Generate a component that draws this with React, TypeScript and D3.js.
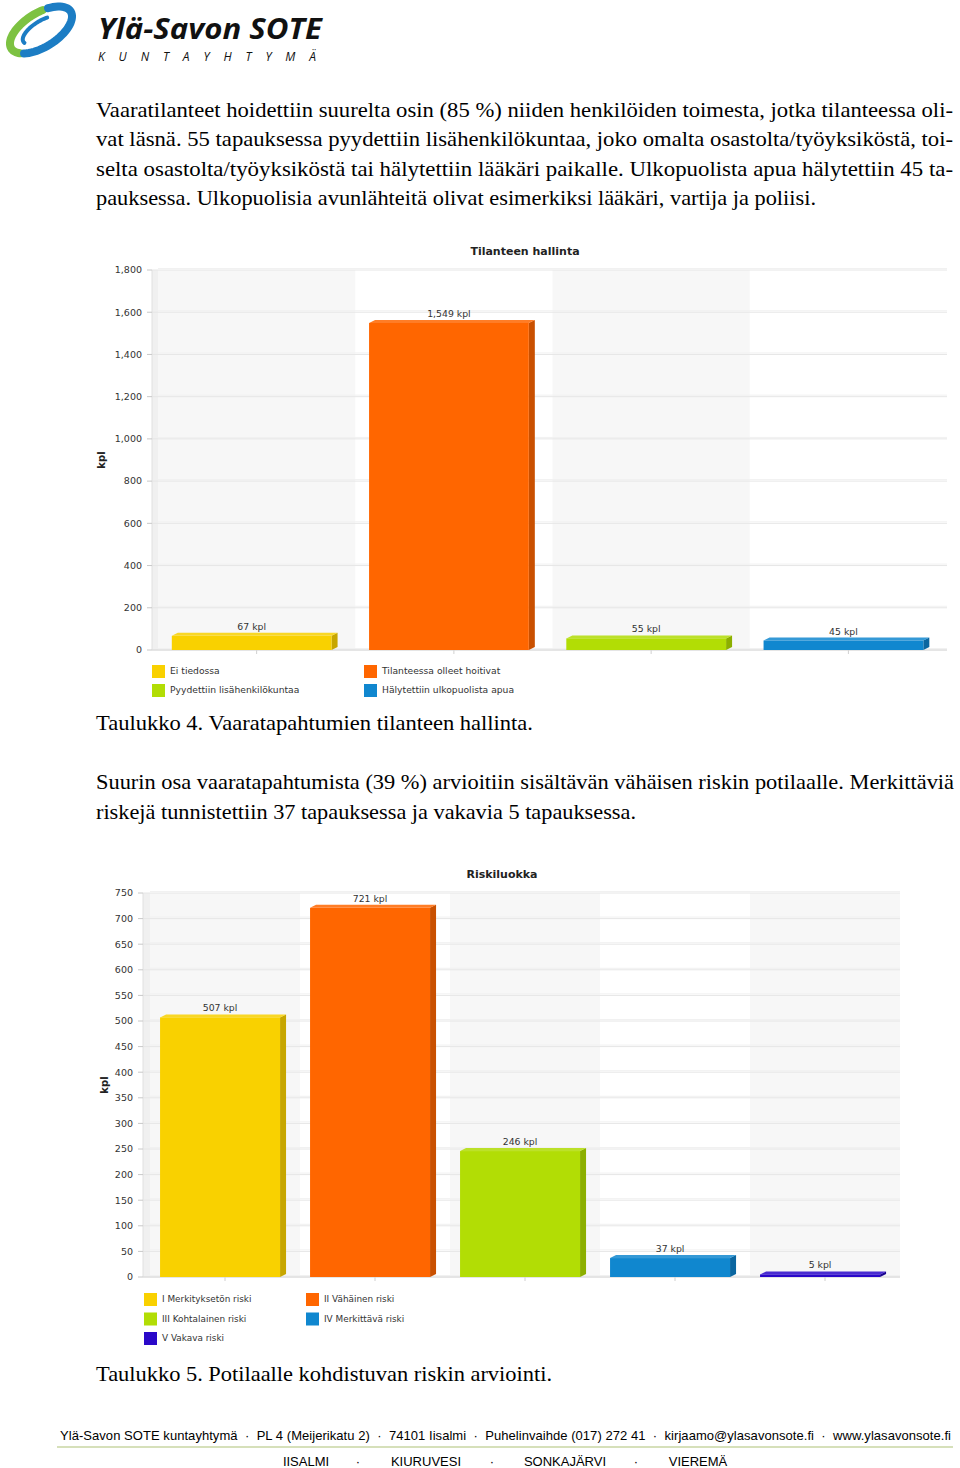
import React from "react";
import * as d3 from "d3";

// ---------- data ----------
const chart1Title = "Tilanteen hallinta";
const chart1Categories = [
  "Ei tiedossa",
  "Tilanteessa olleet hoitivat",
  "Pyydettiin lisähenkilökuntaa",
  "Hälytettiin ulkopuolista apua",
];
const chart1Values = [67, 1549, 55, 45];
const chart1Ticks = [0, 200, 400, 600, 800, 1000, 1200, 1400, 1600, 1800];

const chart2Title = "Riskiluokka";
const chart2Categories = [
  "I Merkityksetön riski",
  "II Vähäinen riski",
  "III Kohtalainen riski",
  "IV Merkittävä riski",
  "V Vakava riski",
];
const chart2Values = [507, 721, 246, 37, 5];
const chart2Ticks = [0, 50, 100, 150, 200, 250, 300, 350, 400, 450, 500, 550, 600, 650, 700, 750];

const chart1Colors = ["#F9D100", "#FF6600", "#B2DD05", "#1087CF"];
const chart1Sides = ["#C7A600", "#C95000", "#8CAF00", "#0B66A0"];
const chart2Colors = ["#F9D100", "#FF6600", "#B2DD05", "#1087CF", "#2A08C9"];
const chart2Sides = ["#C7A600", "#C95000", "#8CAF00", "#0B66A0", "#1A0590"];

const para1 = [
  "Vaaratilanteet hoidettiin suurelta osin (85 %) niiden henkilöiden toimesta, jotka tilanteessa oli-",
  "vat läsnä. 55 tapauksessa pyydettiin lisähenkilökuntaa, joko omalta osastolta/työyksiköstä, toi-",
  "selta osastolta/työyksiköstä tai hälytettiin lääkäri paikalle. Ulkopuolista apua hälytettiin 45 ta-",
  "pauksessa. Ulkopuolisia avunlähteitä olivat esimerkiksi lääkäri, vartija ja poliisi.",
];
const para1Widths = [857, 857, 857, 720];
const caption1 = "Taulukko 4. Vaaratapahtumien tilanteen hallinta.";
const para2 = [
  "Suurin osa vaaratapahtumista (39 %) arvioitiin sisältävän vähäisen riskin potilaalle. Merkittäviä",
  "riskejä tunnistettiin 37 tapauksessa ja vakavia 5 tapauksessa.",
];
const para2Widths = [858, 540];
const caption2 = "Taulukko 5. Potilaalle kohdistuvan riskin arviointi.";
const footerLine1 =
  "Ylä-Savon SOTE kuntayhtymä  ·  PL 4 (Meijerikatu 2)  ·  74101 Iisalmi  ·  Puhelinvaihde (017) 272 41  ·  kirjaamo@ylasavonsote.fi  ·  www.ylasavonsote.fi";
const footerTowns = ["IISALMI", "KIURUVESI", "SONKAJÄRVI", "VIEREMÄ"];

// ---------- helpers ----------
const chartFont = "'DejaVu Sans', Verdana, sans-serif";
const serif = "'Liberation Serif', 'Times New Roman', serif";

function ellipsePath(cx: number, cy: number, rx: number, ry: number, rotDeg: number, t0: number, t1: number) {
  const r = (rotDeg * Math.PI) / 180;
  const pts: [number, number][] = [];
  const n = 40;
  for (let i = 0; i <= n; i++) {
    const t = ((t0 + ((t1 - t0) * i) / n) * Math.PI) / 180;
    const x = rx * Math.cos(t);
    const y = ry * Math.sin(t);
    pts.push([cx + x * Math.cos(r) - y * Math.sin(r), cy + x * Math.sin(r) + y * Math.cos(r)]);
  }
  return d3.line()(pts) || "";
}

type ChartProps = {
  title: string;
  titleX: number;
  titleY: number;
  categories: string[];
  values: number[];
  ticks: number[];
  colors: string[];
  sides: string[];
  axisX: number;
  left: number;
  right: number;
  top: number;
  bottom: number;
  yMax: number;
  ylabelX: number;
  ylabelY: number;
  legendX: number[];
  legendY0: number;
  legendDy: number;
  legendFont: number;
  barOffset: number;
  barWidth: number;
};

function BarChart3D(p: ChartProps) {
  const x = d3.scaleBand<number>().domain(p.values.map((_, i) => i)).range([p.left, p.right]).padding(0);
  const y = d3.scaleLinear().domain([0, p.yMax]).range([p.bottom, p.top]);
  const bw = x.bandwidth();
  const dx = 6;
  const dy = 3;
  return (
    <g>
      {p.values.map((_, i) =>
        i % 2 === 0 ? (
          <rect key={"b" + i} x={x(i)} y={p.top} width={bw} height={p.bottom - p.top} fill="#F7F7F7" />
        ) : null
      )}
      <rect x={p.axisX} y={p.top} width={p.left - p.axisX} height={p.bottom - p.top} fill="#F0F0F0" />
      {p.ticks.map((t) => (
        <g key={"g" + t}>
          <line x1={p.axisX} x2={p.right} y1={y(t)} y2={y(t)} stroke="#E6E6E6" strokeWidth={1} />
          <line x1={p.left} x2={p.right} y1={y(t) - 1.5} y2={y(t) - 1.5} stroke="#F1F1F1" strokeWidth={1} />
        </g>
      ))}
      <line x1={p.axisX} x2={p.axisX} y1={p.top} y2={p.bottom} stroke="#E0E0E0" />
      {p.ticks.map((t) => (
        <g key={"t" + t}>
          <line x1={p.axisX - 5} x2={p.axisX} y1={y(t)} y2={y(t)} stroke="#C8C8C8" />
          <text
            x={p.axisX - 10}
            y={y(t)}
            dy="0.35em"
            textAnchor="end"
            fontFamily={chartFont}
            fontSize={9.5}
            fill="#333"
          >
            {d3.format(",")(t)}
          </text>
        </g>
      ))}
      {p.values.map((_, i) => (
        <line
          key={"xt" + i}
          x1={(x(i) as number) + bw / 2}
          x2={(x(i) as number) + bw / 2}
          y1={p.bottom}
          y2={p.bottom + 4}
          stroke="#D0D0D0"
        />
      ))}
      <line x1={p.axisX} x2={p.right} y1={p.bottom} y2={p.bottom} stroke="#D8D8D8" />
      {p.values.map((v, i) => {
        const x0 = (x(i) as number) + bw * p.barOffset;
        const w = bw * p.barWidth;
        const y0 = y(v);
        const y1 = p.bottom;
        return (
          <g key={"bar" + i}>
            <polygon
              points={`${x0 + w},${y0} ${x0 + w + dx},${y0 - dy} ${x0 + w + dx},${y1 - dy} ${x0 + w},${y1}`}
              fill={p.sides[i]}
            />
            <polygon
              points={`${x0},${y0} ${x0 + dx},${y0 - dy} ${x0 + w + dx},${y0 - dy} ${x0 + w},${y0}`}
              fill={p.colors[i]}
              opacity={0.85}
            />
            <rect x={x0} y={y0} width={w} height={y1 - y0} fill={p.colors[i]} />
            <text
              x={x0 + w / 2}
              y={y0 - 6}
              textAnchor="middle"
              fontFamily={chartFont}
              fontSize={9.3}
              fill="#333"
            >
              {d3.format(",")(v) + " kpl"}
            </text>
          </g>
        );
      })}
      <text x={p.titleX} y={p.titleY} textAnchor="middle" fontFamily={chartFont} fontWeight="bold" fontSize={11} fill="#222">
        {p.title}
      </text>
      <text
        transform={`translate(${p.ylabelX},${p.ylabelY}) rotate(-90)`}
        textAnchor="middle"
        fontFamily={chartFont}
        fontWeight="bold"
        fontSize={10}
        fill="#222"
      >
        kpl
      </text>
      {p.categories.map((c, i) => {
        const lx = p.legendX[i % 2];
        const ly = p.legendY0 + Math.floor(i / 2) * p.legendDy;
        return (
          <g key={"l" + i}>
            <rect x={lx} y={ly - 6} width={13} height={13} fill={p.colors[i]} />
            <text x={lx + 18} y={ly} dy="0.35em" fontFamily={chartFont} fontSize={p.legendFont} fill="#333">
              {c}
            </text>
          </g>
        );
      })}
    </g>
  );
}

export default function App() {
  return (
    <svg
      width={960}
      height={1468}
      style={{ position: "absolute", left: 0, top: 0, background: "#fff" }}
    >
      <rect x={0} y={0} width={960} height={1468} fill="#fff" />
      <g>
        <path d={ellipsePath(41, 30, 35, 17, -32, 150, 290)} stroke="#7DC242" strokeWidth={8} fill="none" strokeLinecap="round" />
        <path d={ellipsePath(41, 30, 35, 17, -32, -60, 140)} stroke="#1C7DC4" strokeWidth={8} fill="none" strokeLinecap="round" />
        <path d={ellipsePath(42, 30, 22, 9, -32, 170, 300)} stroke="#1C7DC4" strokeWidth={4} fill="none" strokeLinecap="round" />
        <text x={98} y={39} fontFamily="'Open Sans', 'DejaVu Sans', sans-serif" fontStyle="italic" fontWeight="bold" fontSize={29} fill="#111" textLength={224} lengthAdjust="spacingAndGlyphs">
          Ylä-Savon SOTE
        </text>
        <text x={98} y={61} fontFamily="'Open Sans', 'DejaVu Sans', sans-serif" fontStyle="italic" fontSize={12} fill="#111" textLength={218} lengthAdjust="spacing">
          KUNTAYHTYMÄ
        </text>
      </g>

      {para1.map((line, i) => (
        <text
          key={"p1" + i}
          x={96}
          y={117 + i * 29.3}
          fontFamily={serif}
          fontSize={21.5}
          fill="#000"
          textLength={para1Widths[i]}
          lengthAdjust="spacingAndGlyphs"
        >
          {line}
        </text>
      ))}

      <BarChart3D
        title={chart1Title}
        titleX={525}
        titleY={255}
        categories={chart1Categories}
        values={chart1Values}
        ticks={chart1Ticks}
        colors={chart1Colors}
        sides={chart1Sides}
        axisX={152}
        left={158}
        right={947}
        top={270}
        bottom={650}
        yMax={1800}
        ylabelX={105}
        ylabelY={460}
        legendX={[152, 364]}
        legendY0={671}
        legendDy={19}
        legendFont={9.2}
        barOffset={0.07}
        barWidth={0.81}
      />

      <text x={96} y={730} fontFamily={serif} fontSize={21.5} fill="#000" textLength={437} lengthAdjust="spacingAndGlyphs">
        {caption1}
      </text>

      {para2.map((line, i) => (
        <text
          key={"p2" + i}
          x={96}
          y={789 + i * 29.5}
          fontFamily={serif}
          fontSize={21.5}
          fill="#000"
          textLength={para2Widths[i]}
          lengthAdjust="spacingAndGlyphs"
        >
          {line}
        </text>
      ))}

      <BarChart3D
        title={chart2Title}
        titleX={502}
        titleY={878}
        categories={chart2Categories}
        values={chart2Values}
        ticks={chart2Ticks}
        colors={chart2Colors}
        sides={chart2Sides}
        axisX={143}
        left={150}
        right={900}
        top={893}
        bottom={1277}
        yMax={750}
        ylabelX={108}
        ylabelY={1085}
        legendX={[144, 306]}
        legendY0={1299}
        legendDy={19.5}
        legendFont={8.9}
        barOffset={0.067}
        barWidth={0.8}
      />

      <text x={96} y={1381} fontFamily={serif} fontSize={21.5} fill="#000" textLength={456} lengthAdjust="spacingAndGlyphs">
        {caption2}
      </text>

      <text
        x={60}
        y={1440}
        fontFamily="'Liberation Sans Narrow', 'Liberation Sans', Arial, sans-serif"
        fontSize={13}
        fill="#000"
        textLength={891}
        lengthAdjust="spacing"
        style={{ whiteSpace: "pre" }}
      >
        {footerLine1}
      </text>
      <line x1={57} x2={953} y1={1447} y2={1447} stroke="#C9D6A3" strokeWidth={1.5} />
      {footerTowns.map((t, i) => {
        const xs = [306, 426, 565, 698];
        return (
          <text
            key={"town" + i}
            x={xs[i]}
            y={1466}
            textAnchor="middle"
            fontFamily="'Liberation Sans Narrow', 'Liberation Sans', Arial, sans-serif"
            fontSize={13}
            fill="#000"
          >
            {t}
          </text>
        );
      })}
      {[358, 492, 636].map((dx, i) => (
        <text key={"dot" + i} x={dx} y={1466} textAnchor="middle" fontFamily="'Liberation Sans', Arial, sans-serif" fontSize={13}>
          ·
        </text>
      ))}
    </svg>
  );
}
